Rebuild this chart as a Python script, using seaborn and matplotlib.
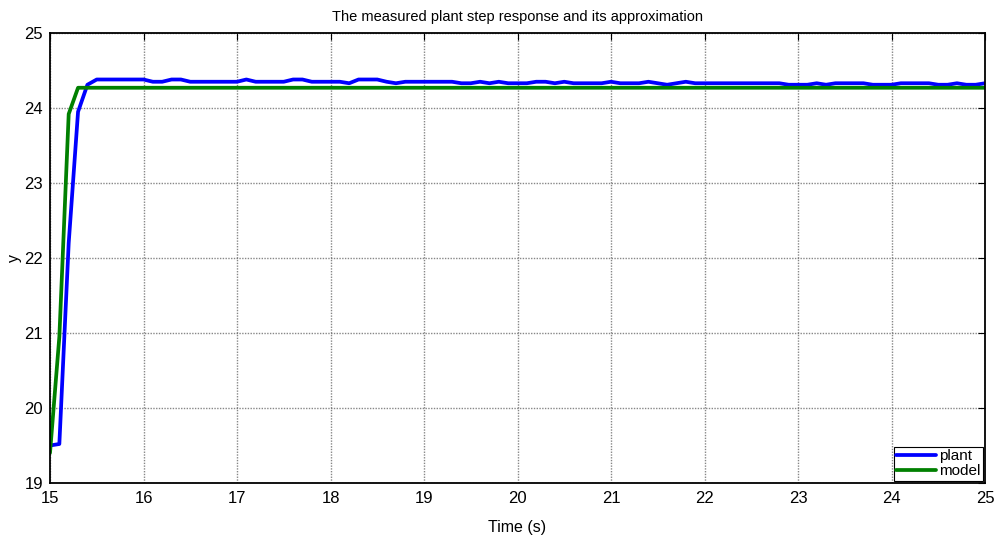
import numpy as np
import pandas as pd
import matplotlib
matplotlib.use("Agg")
import matplotlib.pyplot as plt
import seaborn as sns

# sample times (0.1 s steps)
time_s = np.round(np.arange(150, 251) / 10.0, 1)

plant_y = [
    19.50, 19.52, 22.20, 23.95, 24.31, 24.38, 24.38, 24.38, 24.38, 24.38,  # 15.0-15.9
    24.38, 24.35, 24.35, 24.38, 24.38, 24.35, 24.35, 24.35, 24.35, 24.35,  # 16.0-16.9
    24.35, 24.38, 24.35, 24.35, 24.35, 24.35, 24.38, 24.38, 24.35, 24.35,  # 17.0-17.9
    24.35, 24.35, 24.33, 24.38, 24.38, 24.38, 24.35, 24.33, 24.35, 24.35,  # 18.0-18.9
    24.35, 24.35, 24.35, 24.35, 24.33, 24.33, 24.35, 24.33, 24.35, 24.33,  # 19.0-19.9
    24.33, 24.33, 24.35, 24.35, 24.33, 24.35, 24.33, 24.33, 24.33, 24.33,  # 20.0-20.9
    24.35, 24.33, 24.33, 24.33, 24.35, 24.33, 24.31, 24.33, 24.35, 24.33,  # 21.0-21.9
    24.33, 24.33, 24.33, 24.33, 24.33, 24.33, 24.33, 24.33, 24.33, 24.31,  # 22.0-22.9
    24.31, 24.31, 24.33, 24.31, 24.33, 24.33, 24.33, 24.33, 24.31, 24.31,  # 23.0-23.9
    24.31, 24.33, 24.33, 24.33, 24.33, 24.31, 24.31, 24.33, 24.31, 24.31,  # 24.0-24.9
    24.33,                                                                  # 25.0
]

model_y = [19.40, 20.95, 23.92] + [24.27] * 98

df = pd.DataFrame({
    "t": np.concatenate([time_s, time_s]),
    "y": plant_y + model_y,
    "series": ["plant"] * len(time_s) + ["model"] * len(time_s),
})

sns.set_style("white")
plt.rcParams["font.family"] = ["Liberation Sans", "DejaVu Sans"]
plt.rcParams["text.color"] = "black"
plt.rcParams["axes.labelcolor"] = "black"
plt.rcParams["xtick.color"] = "black"
plt.rcParams["ytick.color"] = "black"

fig = plt.figure(figsize=(9.95, 5.41), dpi=100)
ax = fig.add_axes([50 / 995, 58 / 541, 935 / 995, 450 / 541])

sns.lineplot(data=df, x="t", y="y", hue="series",
             palette={"plant": (0, 0, 1), "model": (0, 0.5, 0)},
             linewidth=2.7, ax=ax, estimator=None, sort=False)

ax.set_xlim(15, 25)
ax.set_ylim(19, 25)
ax.set_xticks(range(15, 26))
ax.set_yticks(range(19, 26))
ax.grid(True, color="#555555", alpha=0.7, linestyle=(0, (1, 1)), linewidth=1.0)
ax.tick_params(direction="in", top=True, right=True, length=5, labelsize=12,
               color="black", pad=5)
ax.tick_params(axis="x", pad=6)
for sp in ax.spines.values():
    sp.set_color("black")
    sp.set_linewidth(1.3)

ax.set_xlabel("Time (s)", fontsize=11.5, labelpad=10)
ax.set_ylabel("y", fontsize=11.5, labelpad=2)
ax.set_title("The measured plant step response and its approximation", fontsize=10.5, pad=9)

leg = ax.legend(loc="lower right", fontsize=11, fancybox=False, framealpha=1,
                borderaxespad=0.15, handlelength=2.6, handletextpad=0.2,
                borderpad=0.15, labelspacing=0.1)
leg.get_frame().set_edgecolor("black")
leg.get_frame().set_linewidth(0.8)

fig.savefig("out.png", dpi=100)
